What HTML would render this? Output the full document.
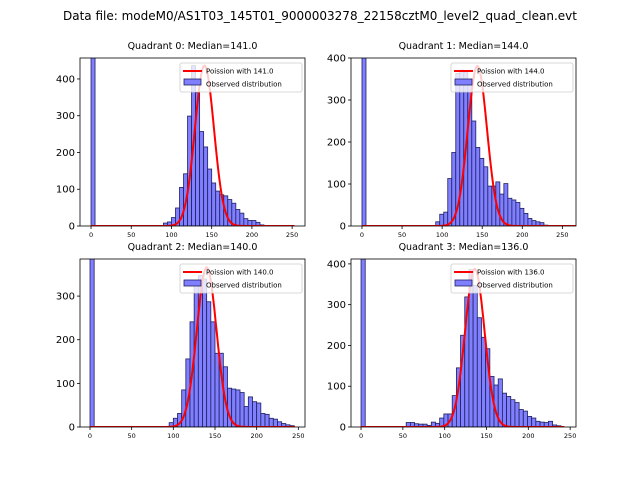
<!DOCTYPE html>
<html><head><meta charset="utf-8"><style>
body{margin:0;background:#fff;}
svg{display:block;font-family:"DejaVu Sans","Liberation Sans",sans-serif;}
</style></head><body>
<svg id="chart" width="640" height="480" viewBox="0 0 640 480">
<text x="320" y="20" text-anchor="middle" font-size="12">Data file: modeM0/AS1T03_145T01_9000003278_22158cztM0_level2_quad_clean.evt</text>
</svg>
<script>
const medians=[141.0,144.0,140.0,136.0];
const binStarts=[90,92,95,54];
const binWidth=5;
const q0Counts=[8,11,23,49,105,142,299,436,363,257,215,155,117,95,85,82,72,62,45,35,20,15,15,10,3];
const q1Counts=[10,28,33,113,175,363,371,367,342,250,187,161,141,95,95,105,76,101,66,62,56,42,30,18,13,10,8,2];
const q2Counts=[10,20,31,85,156,241,329,347,339,287,241,169,169,138,89,87,85,79,47,69,58,55,31,29,20,18,12,8,5,3];
const q3Counts=[11,11,8,7,7,4,12,9,22,32,32,77,145,225,319,386,347,268,220,192,124,103,118,83,75,67,60,43,39,26,22,14,12,11,14,5,3];
const curvePeaks=[436,381,366,388];
const curveEnds=[253,270,246,243];
const yTicks=[[0,100,200,300,400],[0,100,200,300,400],[0,100,200,300],[0,100,200,300,400]];
const xTicks=[0,50,100,150,200,250];
const allCounts=[q0Counts,q1Counts,q2Counts,q3Counts];
const panels=[
 {l:80,r:305,t:58,b:226,xmin:-13.7,xmax:266,ymax:457},
 {l:351,r:576,t:58,b:226,xmin:-13.7,xmax:267,ymax:400},
 {l:80,r:305,t:259,b:427,xmin:-12,xmax:258,ymax:385},
 {l:351,r:576,t:259,b:427,xmin:-12,xmax:257,ymax:412}];
const NS="http://www.w3.org/2000/svg";
const svg=document.getElementById('chart');
function mk(tag,attrs,parent){const e=document.createElementNS(NS,tag);for(const k in attrs)e.setAttribute(k,attrs[k]);(parent||svg).appendChild(e);return e;}
panels.forEach((p,i)=>{
 const g=mk('g',{});
 
 
 const xs=v=>p.l+(v-p.xmin)/(p.xmax-p.xmin)*(p.r-p.l);
 const ys=v=>p.b-v/p.ymax*(p.b-p.t);
 const clip=mk('clipPath',{id:'c'+i},g);mk('rect',{x:p.l,y:p.t,width:p.r-p.l,height:p.b-p.t},clip);
 const pg=mk('g',{'clip-path':'url(#c'+i+')'},g);
 // zero bin
 const z=mk('rect',{x:xs(0),y:p.t-5,width:xs(binWidth)-xs(0),height:p.b-p.t+5,fill:'#7f7fff',stroke:'#202060','stroke-width':0.8},pg);
 
 
 allCounts[i].forEach((c,j)=>{
  const v0=binStarts[i]+j*binWidth;
  const r=mk('rect',{x:xs(v0),y:ys(c),width:xs(v0+binWidth)-xs(v0),height:p.b-ys(c),fill:'#7f7fff',stroke:'#202060','stroke-width':0.8},pg);
  
  
 });
 const m=medians[i];let d='';
 for(let v=0;v<=curveEnds[i];v+=1){const y=curvePeaks[i]*Math.exp(-(v-m)*(v-m)/(2*m));d+=(v?'L':'M')+xs(v).toFixed(1)+','+ys(y).toFixed(1);}
 const pl=mk('path',{d:d,fill:'none',stroke:'#ff0000','stroke-width':2},pg);
 
 
 mk('rect',{x:p.l,y:p.t,width:p.r-p.l,height:p.b-p.t,fill:'none',stroke:'#000','stroke-width':0.8},g);
 xTicks.forEach(t=>{if(t>p.xmax)return;const x=xs(t);mk('line',{x1:x,x2:x,y1:p.b,y2:p.b+3,stroke:'#000','stroke-width':0.8},g);
  const tx=mk('text',{x:x,y:p.b+11,'font-size':6.5,'text-anchor':'middle'},g);tx.textContent=t;
  
  });
 yTicks[i].forEach(t=>{const y=ys(t);mk('line',{x1:p.l-3,x2:p.l,y1:y,y2:y,stroke:'#000','stroke-width':0.8},g);
  const tx=mk('text',{x:p.l-5,y:y+3.5,'font-size':10,'text-anchor':'end'},g);tx.textContent=t;
  
  });
 const ti=mk('text',{x:(p.l+p.r)/2,y:p.t-9,'font-size':9.5,'text-anchor':'middle'},g);
 ti.textContent='Quadrant '+i+': Median='+m.toFixed(1);
 
 
 const lg=mk('g',{},g);
 
 
 const lx=p.r-125,ly=p.t+5;
 mk('rect',{x:lx,y:ly,width:122,height:29,rx:2,fill:'#fff','fill-opacity':0.8,stroke:'#ccc','stroke-width':0.8},lg);
 mk('line',{x1:lx+3,x2:lx+22,y1:ly+8,y2:ly+8,stroke:'#ff0000','stroke-width':2},lg);
 mk('rect',{x:lx+4,y:ly+16,width:17,height:6,fill:'#7f7fff',stroke:'#202060','stroke-width':0.8},lg);
 const t1=mk('text',{x:lx+26,y:ly+10.5,'font-size':7},lg);t1.textContent='Poission with '+m.toFixed(1);
 
 
 const t2=mk('text',{x:lx+26,y:ly+23.5,'font-size':7},lg);t2.textContent='Observed distribution';
 
 
});
</script>
</body></html>
